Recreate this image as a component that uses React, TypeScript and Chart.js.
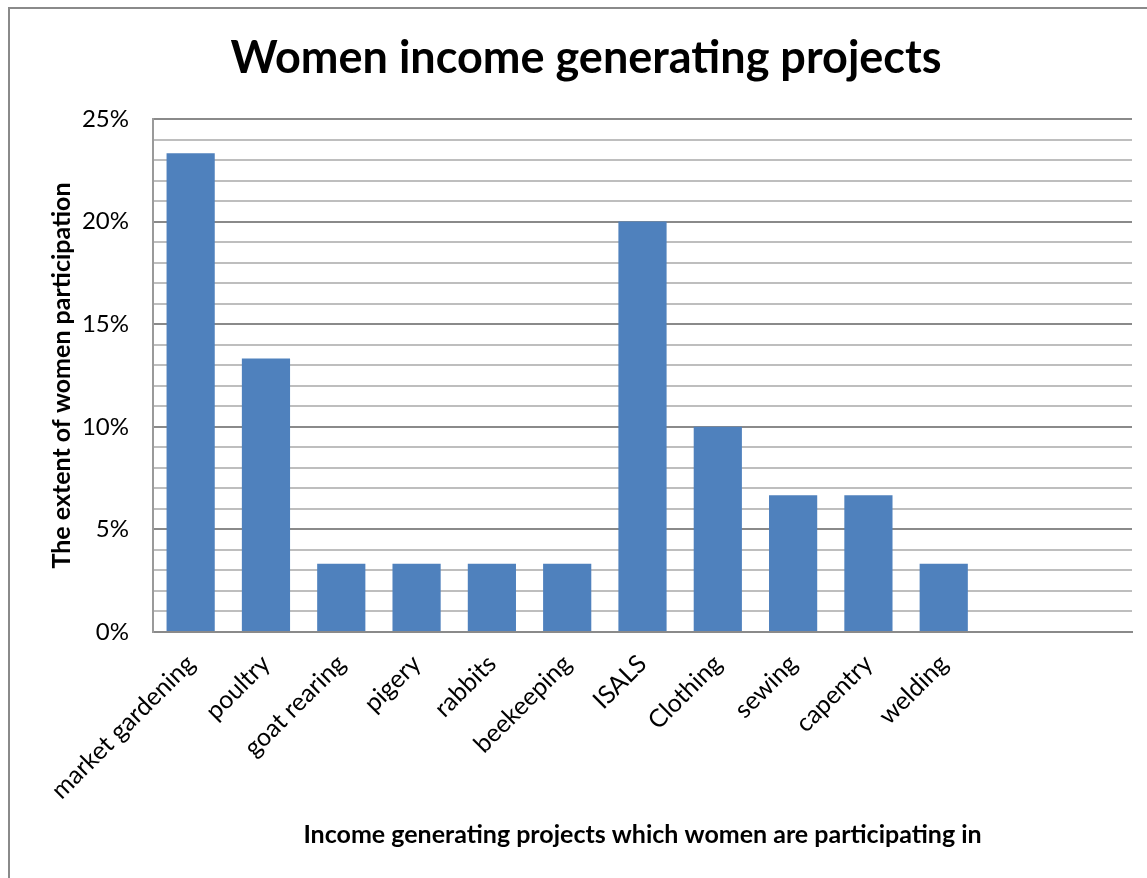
import React, { useEffect, useRef } from 'react';
import { Chart, registerables } from 'chart.js';
Chart.register(...registerables);

const categories = ['market gardening', 'poultry', 'goat rearing', 'pigery', 'rabbits', 'beekeeping', 'ISALS', 'Clothing', 'sewing', 'capentry', 'welding', '', ''];
const participation = [23.33, 13.33, 3.33, 3.33, 3.33, 3.33, 20, 10, 6.67, 6.67, 3.33, null, null];
const yMin = 0;
const yMax = 25;
const yMinorStep = 1;
const yMajorStep = 5;
const titleText = 'Women income generating projects';
const yTitle = 'The extent of women participation';
const xTitle = 'Income generating projects which women are participating in';

const FONT = 'Lato, "Open Sans", sans-serif';

export default function App() {
  const ref = useRef<HTMLCanvasElement | null>(null);
  useEffect(() => {
    if (!ref.current) return;
    const chart = new Chart(ref.current, {
      type: 'bar',
      data: {
        labels: categories,
        datasets: [
          {
            data: participation as any,
            backgroundColor: '#4f81bd',
            borderColor: '#4f81bd',
            borderWidth: 0,
            barPercentage: 0.64,
            categoryPercentage: 1,
          },
        ],
      },
      options: {
        animation: false,
        responsive: false,
        layout: { padding: { left: 40, right: 15, top: 10, bottom: 27 } },
        plugins: {
          legend: { display: false },
          tooltip: { enabled: false },
          title: {
            display: true,
            text: titleText,
            color: '#000',
            font: { family: FONT, size: 45, weight: 'bold', lineHeight: 1.2 },
            padding: { top: 21, bottom: 34 },
          },
        },
        scales: {
          x: {
            afterFit: (s: any) => { s.height = 219; },
            grid: { display: false },
            border: { display: true, color: '#8a8a8a', width: 2 },
            ticks: {
              color: '#000',
              font: { family: FONT, size: 25 },
              minRotation: 45,
              maxRotation: 45,
              autoSkip: false,
              padding: 9,
            },
            title: {
              display: true,
              text: xTitle,
              color: '#000',
              font: { family: FONT, size: 25, weight: 'bold', lineHeight: 1.2 },
              padding: { top: 4, bottom: 1 },
            },
          },
          y: {
            min: yMin,
            max: yMax,
            afterFit: (s: any) => { s.width = 113; },
            grid: {
              drawTicks: false,
              color: (c: any) => (c.tick && c.tick.value % yMajorStep === 0 ? '#8a8a8a' : '#bebebe'),
              lineWidth: 2,
            },
            border: { display: true, color: '#9a9a9a', width: 2 },
            ticks: {
              stepSize: yMinorStep,
              autoSkip: false,
              color: '#000',
              font: { family: FONT, size: 24 },
              padding: 24,
              callback: (v: any) => (Number(v) % yMajorStep === 0 ? v + '%' : ''),
            },
            title: {
              display: true,
              text: yTitle,
              color: '#000',
              font: { family: FONT, size: 25, weight: 'bold', lineHeight: 1.2 },
              padding: { top: 7, bottom: 4 },
            },
          },
        },
      } as any,
    });
    return () => chart.destroy();
  }, []);

  return (
    <div style={{ position: 'fixed', left: 0, top: 0, width: 1147, height: 878, background: '#fff', overflow: 'hidden' }}>
      <div style={{ position: 'absolute', left: 8, top: 7, width: 1300, height: 1000, borderLeft: '2px solid #8a8a8a', borderTop: '2px solid #8a8a8a' }} />
      <canvas ref={ref} width={1147} height={878} style={{ position: 'absolute', left: 0, top: 0, width: 1147, height: 878 }} />
    </div>
  );
}
